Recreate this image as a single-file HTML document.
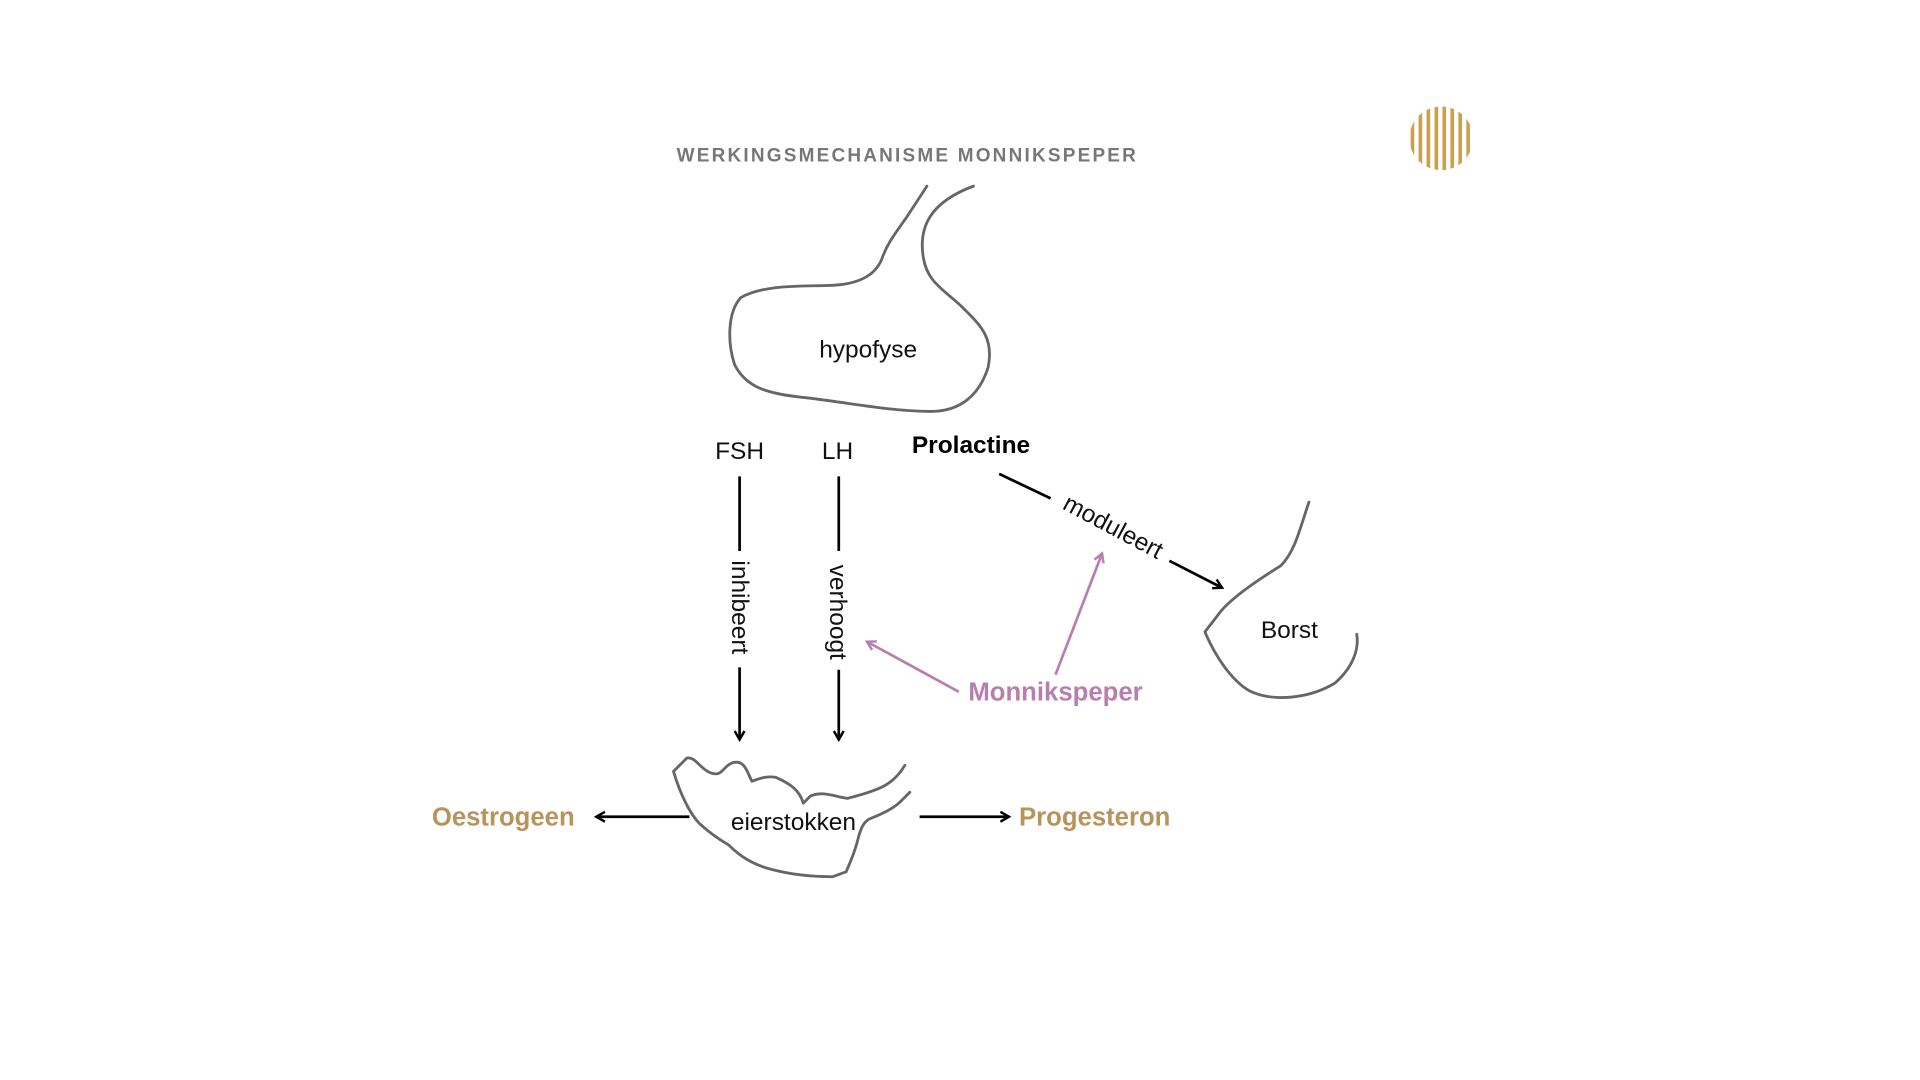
<!DOCTYPE html>
<html><head><meta charset="utf-8"><style>
html,body{margin:0;padding:0;background:#fff;}
svg{display:block;}
text{font-family:"Liberation Sans",sans-serif;}
</style></head><body>
<svg width="1920" height="1080" viewBox="0 0 1568 882" xmlns="http://www.w3.org/2000/svg">
<defs>
<marker id="ab" markerWidth="10" markerHeight="10" refX="8" refY="5" orient="auto" markerUnits="userSpaceOnUse"><path d="M1,1 L8,5 L1,9" fill="none" stroke="#000" stroke-width="2"/></marker>
<marker id="ap" markerWidth="10" markerHeight="10" refX="8" refY="5" orient="auto" markerUnits="userSpaceOnUse"><path d="M1,1 L8,5 L1,9" fill="none" stroke="#b77fb0" stroke-width="2"/></marker>
<clipPath id="cc"><circle cx="1177" cy="113" r="26"/></clipPath>
</defs>
<text x="741" y="132" text-anchor="middle" font-size="15.5" font-weight="bold" fill="#777" letter-spacing="1.8">WERKINGSMECHANISME MONNIKSPEPER</text>
<g clip-path="url(#cc)" fill="#c9a24f">
<rect x="1152" y="80" width="3" height="70"/><rect x="1158.5" y="80" width="3" height="70"/><rect x="1165" y="80" width="3" height="70"/><rect x="1171.5" y="80" width="3" height="70"/><rect x="1178" y="80" width="3" height="70"/><rect x="1184.5" y="80" width="3" height="70"/><rect x="1191" y="80" width="3" height="70"/><rect x="1197.5" y="80" width="3" height="70"/>
</g>
<g fill="none" stroke="#666" stroke-width="2.3" stroke-linejoin="round" stroke-linecap="round">
<path d="M757,152 L740,178 C730,192 724,200 720,212 C714,226 700,232 680,233 C655,234 625,232 605,243 C594,255 594,280 600,298 C610,318 630,322 660,325 C700,330 730,336 760,336 C785,336 800,322 807,300 C812,275 800,265 785,250 C770,236 757,230 754,210 C750,185 760,165 795,152"/>
<path d="M1069,410 C1062,430 1058,450 1046,462 C1030,472 1010,485 998,498 L984,516 C992,535 1005,555 1020,564 C1040,574 1070,570 1090,558 C1105,545 1110,530 1108,518"/>
<path d="M739,625 C730,640 720,645 692,652 C680,650 672,646 662,650 L656,656 C653,645 645,640 634,635 C625,633 618,637 614,638 C610,630 608,620 598,623 C590,626 590,635 580,631 C572,628 568,618 561,619 L550,630 C556,650 565,668 574,675 C583,683 590,687 595,690 C605,700 615,706 630,710 C645,714 660,716 680,716 L691,712 C695,703 698,695 700,688 C703,675 706,670 712,668 C722,664 730,660 735,655 L743,647"/>
</g>
<text x="709" y="292" text-anchor="middle" font-size="20" fill="#111">hypofyse</text>
<text x="1053" y="521" text-anchor="middle" font-size="20" fill="#111">Borst</text>
<text x="648" y="678" text-anchor="middle" font-size="20" fill="#111">eierstokken</text>
<text x="604" y="375" text-anchor="middle" font-size="20" fill="#111">FSH</text>
<text x="684" y="375" text-anchor="middle" font-size="20" fill="#111">LH</text>
<text x="793" y="370" text-anchor="middle" font-size="20" font-weight="bold" fill="#000">Prolactine</text>
<g stroke="#000" stroke-width="2.2" fill="none">
<line x1="604" y1="389" x2="604" y2="450"/>
<line x1="604" y1="545" x2="604" y2="604" marker-end="url(#ab)"/>
<line x1="685" y1="389" x2="685" y2="450"/>
<line x1="685" y1="547" x2="685" y2="604" marker-end="url(#ab)"/>
<line x1="816" y1="387" x2="858" y2="407"/>
<line x1="955" y1="458" x2="998" y2="480" marker-end="url(#ab)"/>
<line x1="563" y1="667" x2="487" y2="667" marker-end="url(#ab)"/>
<line x1="751" y1="667" x2="824" y2="667" marker-end="url(#ab)"/>
</g>
<text transform="translate(598,496) rotate(90)" text-anchor="middle" font-size="20" fill="#111">inhibeert</text>
<text transform="translate(678,500) rotate(90)" text-anchor="middle" font-size="20" fill="#111">verhoogt</text>
<text transform="translate(906,436) rotate(28)" text-anchor="middle" font-size="20" fill="#111">moduleert</text>
<g stroke="#b77fb0" stroke-width="2.2" fill="none">
<line x1="783" y1="565" x2="708" y2="524" marker-end="url(#ap)"/>
<line x1="862" y1="551" x2="900" y2="452" marker-end="url(#ap)"/>
</g>
<text x="862" y="572" text-anchor="middle" font-size="21" font-weight="bold" fill="#b77fb0">Monnikspeper</text>
<text x="411" y="674" text-anchor="middle" font-size="21" font-weight="bold" fill="#b8935a">Oestrogeen</text>
<text x="894" y="674" text-anchor="middle" font-size="21" font-weight="bold" fill="#b8935a">Progesteron</text>
</svg>
</body></html>
